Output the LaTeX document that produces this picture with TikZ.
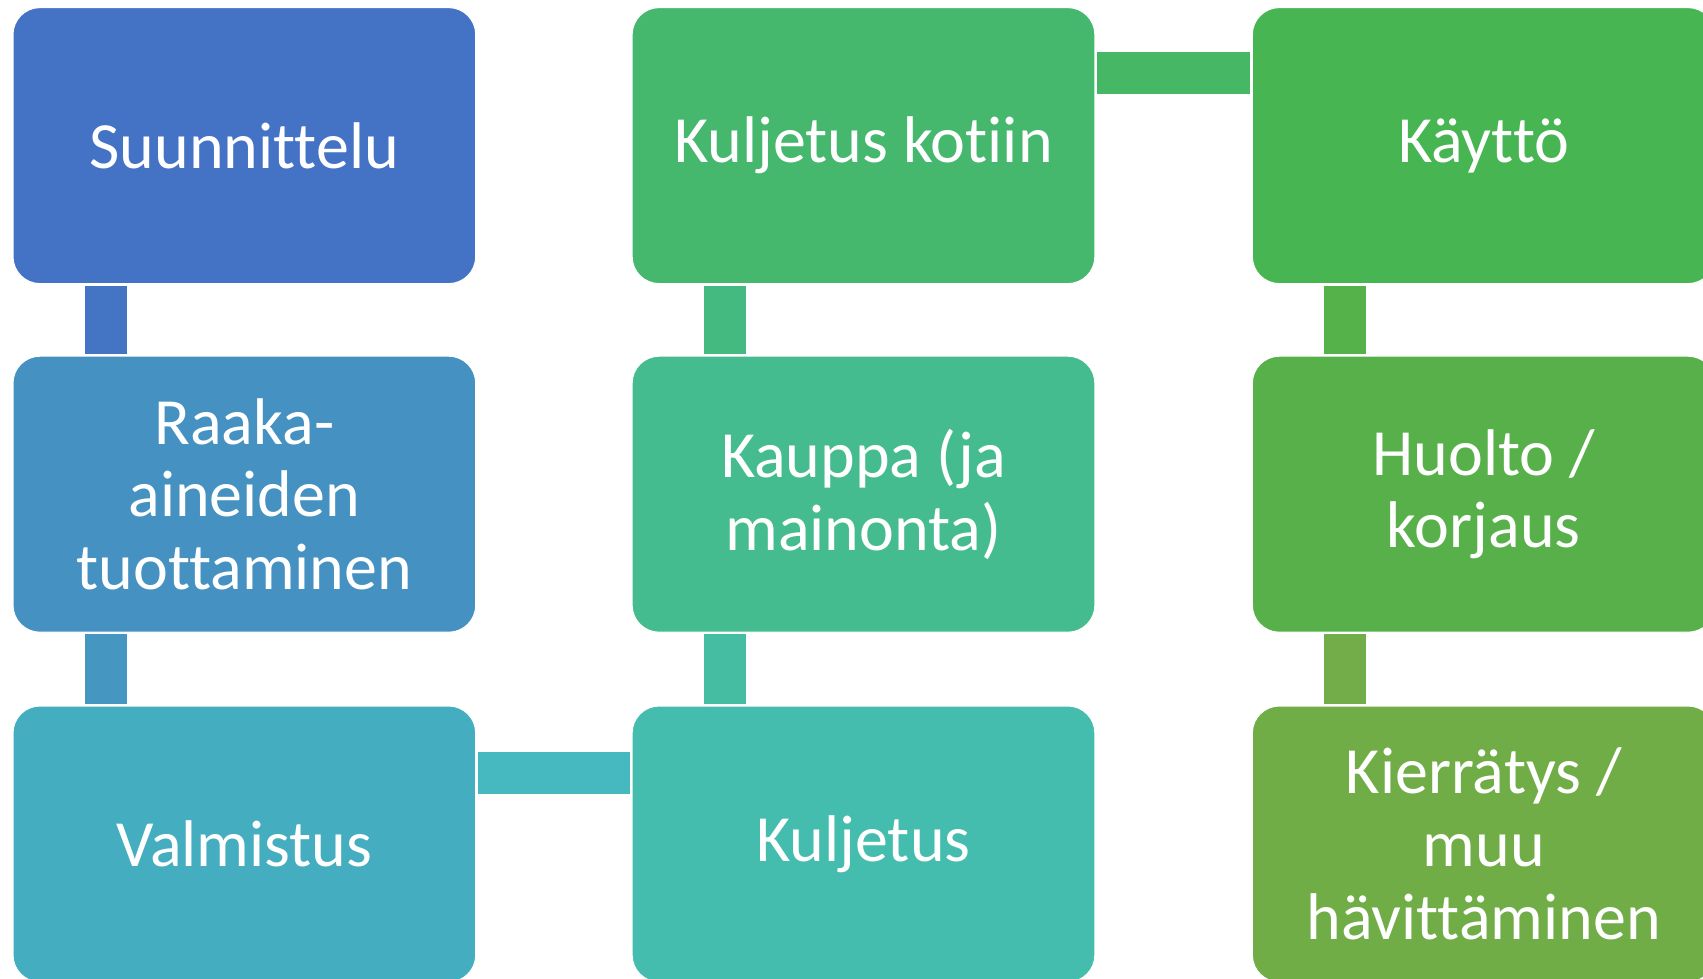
\documentclass[tikz,border=0pt]{standalone}
\usepackage{fontspec}
\setmainfont{Carlito}[Ligatures={NoCommon,NoRare,NoContextual}]
\definecolor{cA}{HTML}{4472C4}
\definecolor{cB}{HTML}{4591C1}
\definecolor{cC}{HTML}{44AEC0}
\definecolor{cD}{HTML}{44BDAF}
\definecolor{cE}{HTML}{45BC8F}
\definecolor{cF}{HTML}{45B86E}
\definecolor{cG}{HTML}{48B553}
\definecolor{cH}{HTML}{58B04A}
\definecolor{cI}{HTML}{70AD47}
\definecolor{kA}{HTML}{4474C4}
\definecolor{kB}{HTML}{4596C1}
\definecolor{kC}{HTML}{45B8C0}
\definecolor{kD}{HTML}{45BDA2}
\definecolor{kE}{HTML}{45BA80}
\definecolor{kF}{HTML}{46B765}
\definecolor{kG}{HTML}{55B14A}
\definecolor{kH}{HTML}{72AD4A}
\begin{document}
\begin{tikzpicture}[x=1pt,y=-1pt,
  box/.style={rectangle, rounded corners=27pt, minimum width=462.7pt, minimum height=276pt,
    inner sep=0pt, outer sep=0pt, draw=white, line width=1pt, text=white, align=center,
    font=\fontsize{66pt}{72.8pt}\selectfont},
  conn/.style={line width=42pt, line cap=butt, shorten <=2pt, shorten >=2pt}]
\useasboundingbox (0,0) rectangle (1703,979);
\clip (0,0) rectangle (1703,979);
\node[box, fill=cA] (s) at (244.35,145.6) {Suunnittelu};
\node[box, fill=cB] (r) at (244.35,494.2) {Raaka-\\aineiden\\tuottaminen};
\node[box, fill=cC] (v) at (244.35,844) {Valmistus};
\node[box, fill=cD] (k) at (863.5,844) {Kuljetus};
\node[box, fill=cE] (ka) at (863.5,494.2) {Kauppa (ja\\mainonta)};
\node[box, fill=cF] (kk) at (863.5,145.6) {Kuljetus kotiin};
\node[box, fill=cG] (ky) at (1483.7,145.6) {Käyttö};
\node[box, fill=cH] (h) at (1483.7,494.2) {Huolto /\\korjaus};
\node[box, fill=cI] (ki) at (1483.7,844) {Kierrätys /\\muu\\hävittäminen};
\draw[conn, kA] ([xshift=93pt]s.south west) -- ([xshift=93pt]r.north west);
\draw[conn, kB] ([xshift=93pt]r.south west) -- ([xshift=93pt]v.north west);
\draw[conn, kC] ([yshift=-66.8pt]v.north east) -- ([yshift=-66.8pt]k.north west);
\draw[conn, kD] ([xshift=93pt]k.north west) -- ([xshift=93pt]ka.south west);
\draw[conn, kE] ([xshift=93pt]ka.north west) -- ([xshift=93pt]kk.south west);
\draw[conn, kF] ([yshift=-65.7pt]kk.north east) -- ([yshift=-65.7pt]ky.north west);
\draw[conn, kG] ([xshift=93pt]ky.south west) -- ([xshift=93pt]h.north west);
\draw[conn, kH] ([xshift=93pt]h.south west) -- ([xshift=93pt]ki.north west);
\end{tikzpicture}
\end{document}
